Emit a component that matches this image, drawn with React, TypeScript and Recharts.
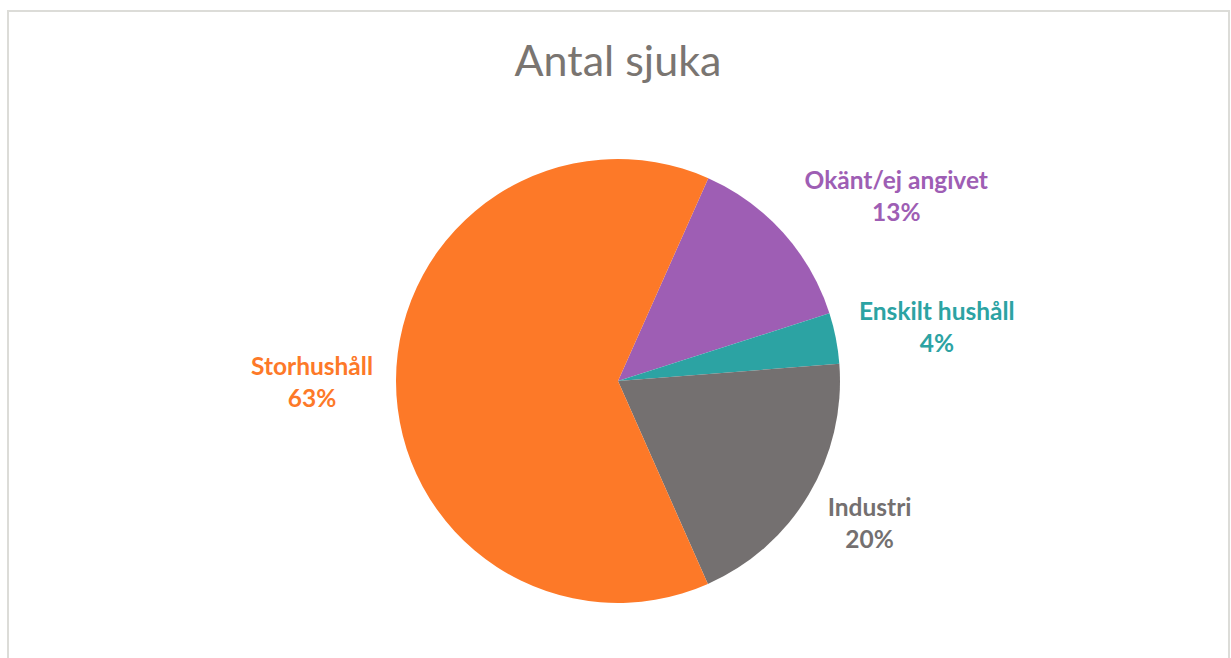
import React from 'react';
import { PieChart, Pie, Cell } from 'recharts';

const categories = ['Okänt/ej angivet', 'Enskilt hushåll', 'Industri', 'Storhushåll'];
const values = [13.4, 3.7, 19.6, 63.3];
const colors = ['#9E5EB4', '#2CA3A3', '#747070', '#FD7928'];

const data = categories.map((name, i) => ({ name, value: values[i] }));

// label offsets from the slice's outer edge point (layout only)
const labelOffsets = [
  [113, -37],
  [101, -11],
  [61, 28],
  [-84, 1],
];

const RAD = Math.PI / 180;

const renderLabel = (props: any) => {
  const { cx, cy, midAngle, outerRadius, percent, index } = props;
  const ox = cx + outerRadius * Math.cos(-midAngle * RAD);
  const oy = cy + outerRadius * Math.sin(-midAngle * RAD);
  const [dx, dy] = labelOffsets[index];
  const x = ox + dx;
  const y = oy + dy;
  return (
    <text
      x={x}
      y={y}
      textAnchor="middle"
      fill={colors[index]}
      style={{ fontFamily: 'Lato, "Open Sans", sans-serif', fontWeight: 700, fontSize: 24.5 }}
    >
      <tspan x={x} y={y - 7}>{categories[index]}</tspan>
      <tspan x={x} y={y + 25}>{`${Math.round(percent * 100)}%`}</tspan>
    </text>
  );
};

export default function App() {
  return (
    <div style={{ position: 'absolute', left: 0, top: 0, width: 1231, height: 658, background: '#fff', overflow: 'hidden' }}>
      <div
        style={{
          position: 'absolute',
          left: 7,
          top: 10,
          width: 1219,
          height: 660,
          borderTop: '2px solid #dcdcd8',
          borderLeft: '2px solid #dcdcd8',
          borderRight: '2px solid #dcdcd8',
        }}
      />
      <div
        style={{
          position: 'absolute',
          left: 0,
          width: 1236,
          top: 38,
          textAlign: 'center',
          fontFamily: 'Lato, "Open Sans", sans-serif',
          fontWeight: 400,
          fontSize: 43,
          lineHeight: '44px',
          color: '#7a7571',
        }}
      >
        Antal sjuka
      </div>
      <div style={{ position: 'absolute', left: 0, top: 0 }}>
        <PieChart width={1231} height={658} margin={{ top: 0, right: 0, bottom: 0, left: 0 }}>
          <Pie
            data={data}
            dataKey="value"
            nameKey="name"
            cx={618}
            cy={381}
            outerRadius={222}
            startAngle={66}
            endAngle={-294}
            stroke="none"
            label={renderLabel}
            labelLine={false}
            isAnimationActive={false}
          >
            {data.map((d, i) => (
              <Cell key={d.name} fill={colors[i]} />
            ))}
          </Pie>
        </PieChart>
      </div>
    </div>
  );
}
